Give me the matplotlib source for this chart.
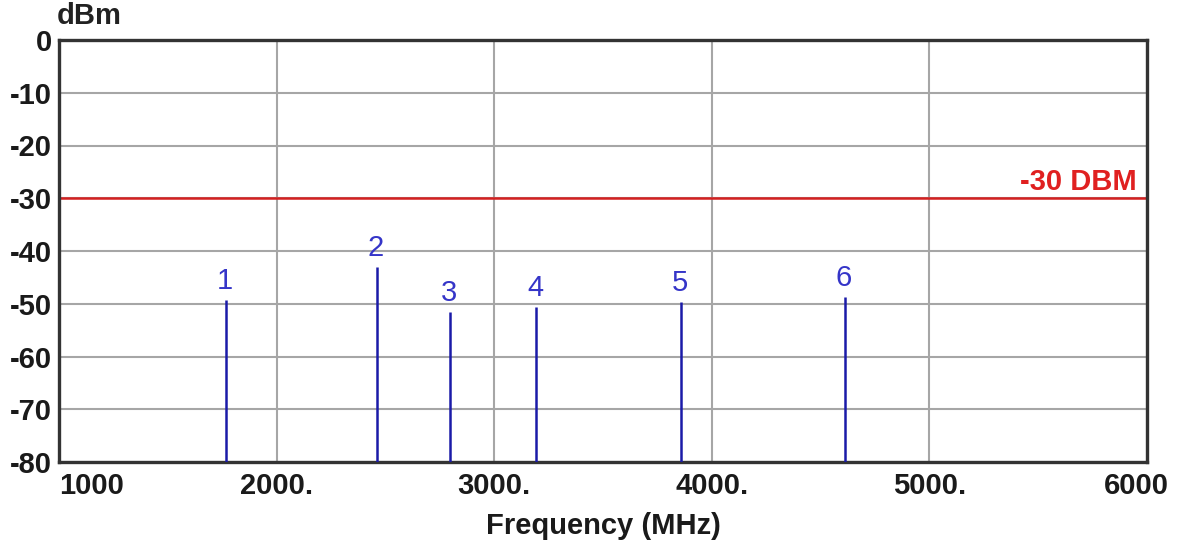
import matplotlib
matplotlib.use("Agg")
import matplotlib.pyplot as plt
import matplotlib.transforms as mtransforms

# spectrum markers
marker_ids = ["1", "2", "3", "4", "5", "6"]
freqs_mhz = [1767, 2461, 2797, 3192, 3858, 4612]
levels_dbm = [-49.3, -43.1, -51.6, -50.6, -49.7, -48.7]

limit_dbm = -30
limit_label = "-30 DBM"

x_ticks = [1000, 2000, 3000, 4000, 5000, 6000]
x_tick_labels = ["1000", "2000.", "3000.", "4000.", "5000.", "6000"]
y_ticks = [0, -10, -20, -30, -40, -50, -60, -70, -80]

plt.rcParams["font.family"] = ["Liberation Sans", "DejaVu Sans"]
fs = 21

fig = plt.figure(figsize=(11.78, 5.44), dpi=100)
ax = fig.add_axes([59 / 1178, 82 / 544, 1088 / 1178, 422 / 544])

ax.set_xlim(1000, 6000)
ax.set_ylim(-80, 0)

ax.set_xticks(x_ticks)
ax.set_xticklabels(x_tick_labels, fontsize=fs, fontweight="bold", color="#1a1a1a")
ax.set_yticks(y_ticks)
ax.set_yticklabels([str(v) for v in y_ticks], fontsize=fs, fontweight="bold",
                   color="#1a1a1a")
ax.tick_params(length=0, pad=5)
ax.tick_params(axis="x", pad=7)

# first label flush left with the axis, last one pulled in from the edge
xt = ax.get_xticklabels()
xt[0].set_horizontalalignment("left")
xt[-1].set_transform(xt[-1].get_transform() +
                     mtransforms.ScaledTranslation(-11 / 100, 0, fig.dpi_scale_trans))

ax.grid(True, color="#a6a6a6", linewidth=1.5)
ax.set_axisbelow(True)
for sp in ax.spines.values():
    sp.set_color("#333333")
    sp.set_linewidth(2.4)

ax.axhline(limit_dbm, color="#d42020", linewidth=1.8, zorder=2)
ax.annotate(limit_label, xy=(1, limit_dbm), xycoords=("axes fraction", "data"),
            xytext=(-10, 8), textcoords="offset pixels", ha="right", va="baseline",
            color="#e02020", fontsize=fs, fontweight="bold")

ax.vlines(freqs_mhz, -80, levels_dbm, color="#1a1aa8", linewidth=1.8, zorder=3)
for lab, f, lv in zip(marker_ids, freqs_mhz, levels_dbm):
    ax.annotate(lab, xy=(f, lv), xytext=(-1, 11), textcoords="offset pixels",
                ha="center", va="baseline", color="#3535c8", fontsize=fs)

fig.text(57 / 1178, 1 - 2 / 544, "dBm", ha="left", va="top",
         fontsize=fs, fontweight="bold", color="#222222")
ax.set_xlabel("Frequency (MHz)", fontsize=fs, fontweight="bold", labelpad=9,
              color="#1a1a1a")

fig.savefig("out.png", dpi=100)
